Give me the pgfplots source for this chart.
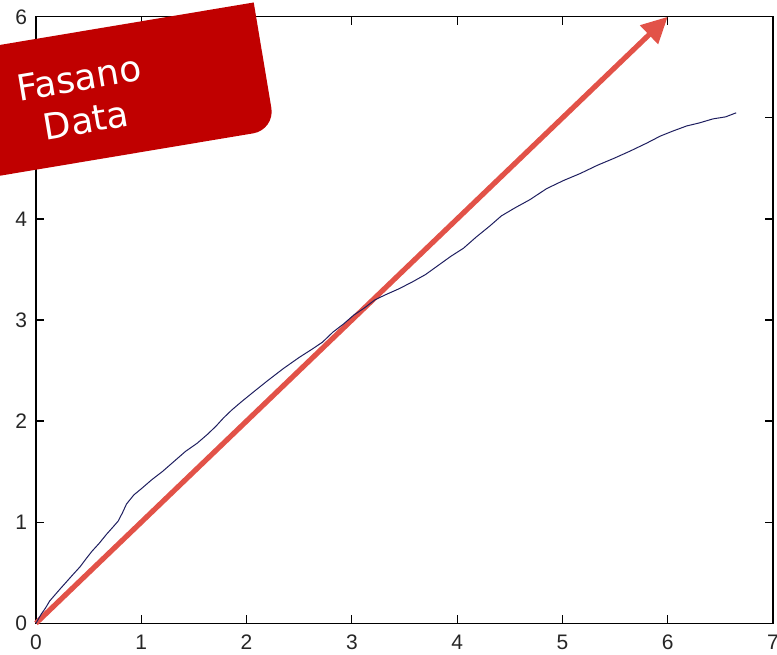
\documentclass[border=0pt]{standalone}
\usepackage{fontspec}
\setmainfont{Liberation Sans}
\newfontfamily\callfont{DejaVu Sans}
\usepackage{pgfplots}
\pgfplotsset{compat=1.18}
\usetikzlibrary{arrows.meta}
\definecolor{curvecol}{RGB}{30,30,95}
\definecolor{arrowred}{RGB}{226,82,72}
\definecolor{callred}{RGB}{192,0,0}
\begin{document}
\begin{tikzpicture}
\path[use as bounding box] (-18pt,-15.5pt) rectangle (370.5pt,311.6pt);
\clip (-18pt,-15.5pt) rectangle (370.5pt,311.6pt);
\begin{axis}[
  at={(0pt,0pt)}, anchor=south west, scale only axis,
  width=368.5pt, height=303.2pt,
  xmin=0, xmax=7, ymin=0, ymax=6,
  xtick={0,1,2,3,4,5,6,7}, ytick={0,1,2,3,4,5,6},
  tick align=inside, major tick length=4pt,
  axis line style={line width=0.6pt, black},
  tick style={line width=0.6pt, black},
  clip=false,
  /pgf/number format/assume math mode=true,
  tick label style={font=\fontsize{10.5}{12}\selectfont, text=black!85},
  xticklabel style={yshift=-2.5pt},
  yticklabel style={xshift=-1pt},
]
\addplot[color=arrowred, line width=2.6pt, -{Triangle[length=13pt, width=12.5pt]}]
  coordinates {(0,0) (6,6)};
\addplot[color=curvecol, line width=0.5pt] coordinates {
(0,0) (0.05,0.09) (0.09,0.15) (0.13,0.22) (0.18,0.28) (0.23,0.34) (0.29,0.41)
(0.35,0.48) (0.42,0.56) (0.47,0.63) (0.53,0.71) (0.60,0.79) (0.67,0.88)
(0.73,0.95) (0.78,1.01) (0.82,1.09) (0.86,1.18) (0.93,1.27) (1.00,1.33)
(1.10,1.42) (1.20,1.50) (1.31,1.60) (1.42,1.70) (1.53,1.78) (1.63,1.87)
(1.71,1.95) (1.78,2.03) (1.86,2.11) (1.95,2.19) (2.08,2.30) (2.20,2.40)
(2.35,2.52) (2.50,2.63) (2.62,2.71) (2.72,2.78) (2.82,2.88) (2.92,2.96)
(3.02,3.05) (3.12,3.12) (3.22,3.20) (3.32,3.25) (3.45,3.31) (3.58,3.38)
(3.70,3.45) (3.82,3.54) (3.94,3.63) (4.06,3.71) (4.18,3.82) (4.31,3.93)
(4.42,4.03) (4.55,4.11) (4.69,4.19) (4.85,4.30) (5.01,4.38) (5.17,4.45)
(5.33,4.53) (5.49,4.60) (5.64,4.67) (5.80,4.75) (5.93,4.82) (6.05,4.87)
(6.18,4.92) (6.30,4.95) (6.43,4.99) (6.55,5.01) (6.65,5.05)
};
\end{axis}
\begin{scope}[shift={(119.5pt,246.75pt)}, rotate=9.5]
\fill[callred] (-260pt,0pt) -- (-260pt,64.5pt) -- (0pt,64.5pt) -- (0pt,11pt)
  arc[start angle=0, end angle=-90, radius=11pt] -- cycle;
\end{scope}
\node[rotate=9.5, text=white, align=center, inner sep=0pt,
  font=\callfont\fontsize{18}{21.5}\selectfont] at (23.25pt,262pt) {Fasano\\Data};
\end{tikzpicture}
\end{document}
